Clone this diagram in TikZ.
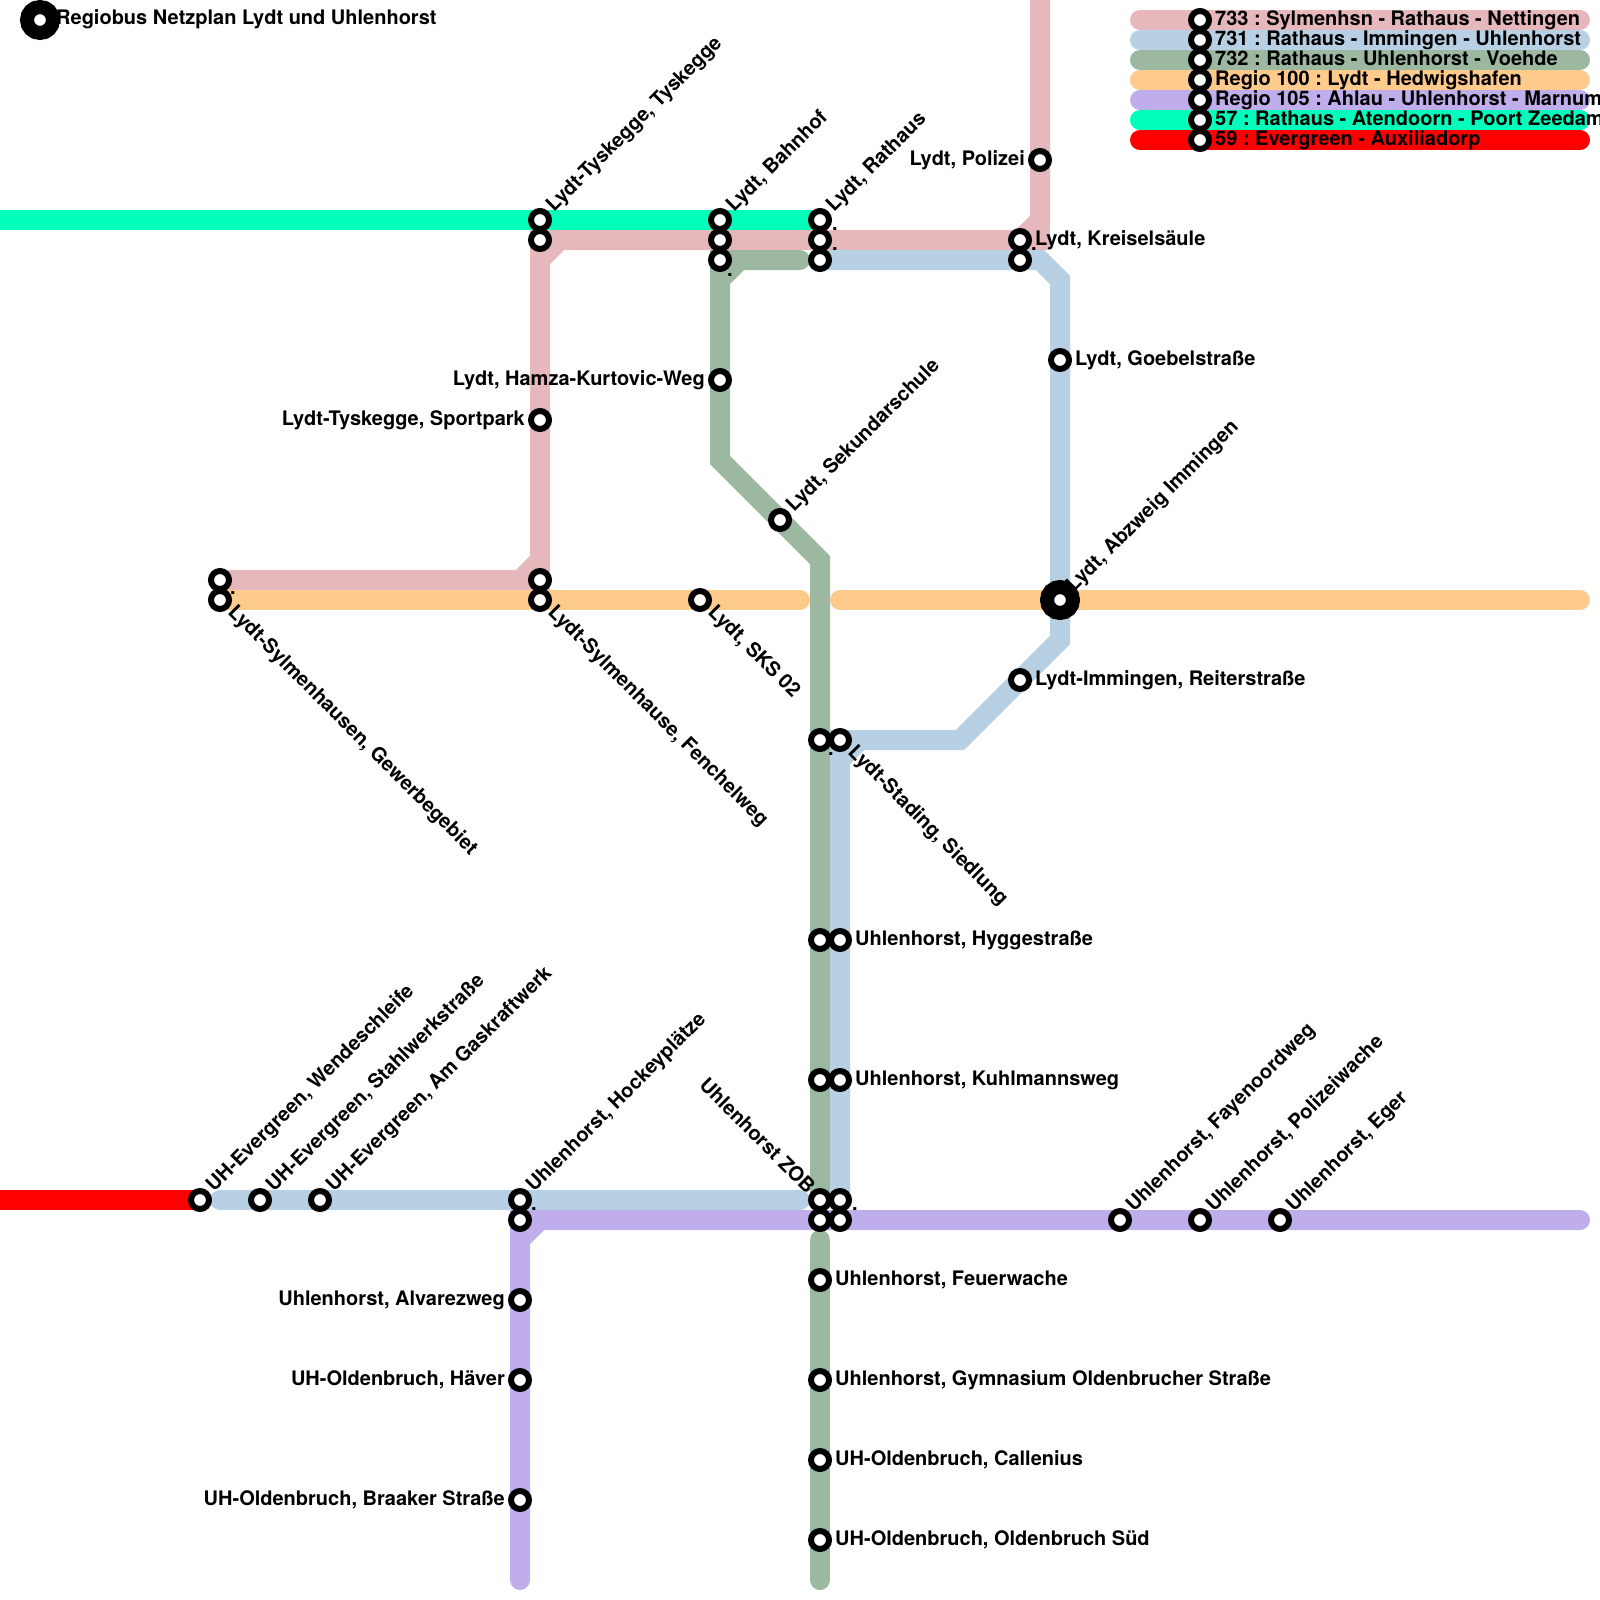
\documentclass[tikz,border=0pt]{standalone}
\usepackage{fontspec}
\setmainfont{TeX Gyre Heros}
\frenchspacing
\tikzset{
  x=1pt,y=-1pt,
  route/.style={line width=20pt,line join=miter,line cap=round},
  rbutt/.style={line width=20pt,line join=miter,line cap=butt},
  stn/.style={circle,draw=black,fill=white,line width=6pt,inner sep=0pt,minimum size=18pt},
  bigstn/.style={circle,draw=black,fill=white,line width=14pt,inner sep=0pt,minimum size=26pt},
  lab/.style={font=\bfseries\fontsize{20}{20}\selectfont,inner sep=0pt,text=black},
  rlab/.style={lab,anchor=base west},
  llab/.style={lab,anchor=base east},
  leg/.style={lab,anchor=base west},
}
\definecolor{cpink}{HTML}{E6B8BC}
\definecolor{cblue}{HTML}{B8D0E4}
\definecolor{cgreen}{HTML}{9DB8A0}
\definecolor{corange}{HTML}{FFCB8C}
\definecolor{cpurple}{HTML}{C0AEEC}
\definecolor{cmint}{HTML}{00FFBB}
\definecolor{cred}{HTML}{FF0000}
\begin{document}
\begin{tikzpicture}
\useasboundingbox (0,0) rectangle (1600,1600);
% legend bars
\foreach \y/\c in {20/cpink,40/cblue,60/cgreen,80/corange,100/cpurple,120/cmint,140/cred}{
  \coordinate (la\y) at (1140,\y); \coordinate (lb\y) at (1580,\y);
  \draw[route,draw=\c] (la\y) -- (lb\y);
}
% vertices
\coordinate (pTop) at (1040,0);
\coordinate (p1) at (1040,220);
\coordinate (p2) at (1020,240);
\coordinate (pc1) at (1040,240);
\coordinate (p3) at (560,240);
\coordinate (p4) at (540,260);
\coordinate (pc2) at (540,240);
\coordinate (p5) at (540,560);
\coordinate (p6) at (520,580);
\coordinate (pc3) at (540,580);
\coordinate (p7) at (220,580);
\coordinate (m0) at (0,220);
\coordinate (m1) at (820,220);
\coordinate (g0) at (800,260);
\coordinate (g1) at (740,260);
\coordinate (g2) at (720,280);
\coordinate (gc) at (720,260);
\coordinate (g3) at (720,460);
\coordinate (g4) at (820,560);
\coordinate (g5) at (820,1200);
\coordinate (g6) at (820,1240);
\coordinate (g7) at (820,1580);
\coordinate (b0) at (820,260);
\coordinate (b1) at (1040,260);
\coordinate (b2) at (1060,280);
\coordinate (b3) at (1060,640);
\coordinate (b4) at (960,740);
\coordinate (b5) at (860,740);
\coordinate (b5a) at (840,760);
\coordinate (bc) at (840,740);
\coordinate (b6) at (840,1200);
\coordinate (b7) at (800,1200);
\coordinate (b8) at (220,1200);
\coordinate (o0) at (220,600);
\coordinate (o1) at (800,600);
\coordinate (o2) at (840,600);
\coordinate (o3) at (1580,600);
\coordinate (v0) at (1580,1220);
\coordinate (v1) at (540,1220);
\coordinate (v2) at (520,1240);
\coordinate (vc) at (520,1220);
\coordinate (v3) at (520,1580);
\coordinate (r0) at (0,1200);
\coordinate (r1) at (200,1200);
% routes
\draw[rbutt,draw=cmint] (m0) -- (m1);
\draw[rbutt,draw=cpink] (pTop) -- (p1) -- (p2) -- (p3) -- (p4) -- (p5) -- (p6) -- (p7);
\draw[rbutt,draw=cpink] (p1) -- (pc1) -- (p2);
\draw[rbutt,draw=cpink] (p3) -- (pc2) -- (p4);
\draw[rbutt,draw=cpink] (p5) -- (pc3) -- (p6);
\draw[route,draw=cgreen] (g0) -- (g1) -- (g2) -- (g3) -- (g4) -- (g5);
\draw[rbutt,draw=cgreen] (g1) -- (gc) -- (g2);
\draw[route,draw=cgreen] (g6) -- (g7);
\draw[route,draw=cblue] (b0) -- (b1) -- (b2) -- (b3) -- (b4) -- (b5) -- (b5a) -- (b6);
\draw[rbutt,draw=cblue] (b5) -- (bc) -- (b5a);
\draw[route,draw=cblue] (b7) -- (b8);
\draw[route,draw=corange] (o0) -- (o1);
\draw[route,draw=corange] (o2) -- (o3);
\draw[route,draw=cpurple] (v0) -- (v1) -- (v2) -- (v3);
\draw[rbutt,draw=cpurple] (v1) -- (vc) -- (v2);
\draw[rbutt,draw=cred] (r0) -- (r1);
% legend stations and text
\foreach \y in {20,40,60,80,100,120,140}{ \node[stn] (ls\y) at (1200,\y) {}; }
\node[leg] (t1) at (1215,26) {733 : Sylmenhsn - Rathaus - Nettingen};
\node[leg] (t2) at (1215,46) {731 : Rathaus - Immingen - Uhlenhorst};
\node[leg] (t3) at (1215,66) {732 : Rathaus - Uhlenhorst - Voehde};
\node[leg] (t4) at (1215,86) {Regio 100 : Lydt - Hedwigshafen};
\node[leg] (t5) at (1215,106) {Regio 105 : Ahlau - Uhlenhorst - Marnum};
\node[leg] (t6) at (1215,126) {57 : Rathaus - Atendoorn - Poort Zeedam};
\node[leg] (t7) at (1215,146) {59 : Evergreen - Auxiliadorp};
% stations
\node[bigstn] (title) at (40,20) {};
\node[bigstn] (abz) at (1060,600) {};
\foreach \n/\x/\y in {a/540/220,b/540/240,c/720/220,d/720/240,e/720/260,f/820/220,g/820/240,h/820/260,
 i/1020/240,j/1020/260,k/1040/160,l/1060/360,m/720/380,n/540/420,o/780/520,
 p/220/580,q/220/600,r/540/580,s/540/600,t/700/600,u/1020/680,
 w/820/740,x/840/740,y/820/940,z/840/940,aa/820/1080,ab/840/1080,
 ac/820/1200,ad/840/1200,ae/820/1220,af/840/1220,ag/1120/1220,ah/1200/1220,ai/1280/1220,
 aj/820/1280,ak/820/1380,al/820/1460,am/820/1540,
 an/520/1200,ao/520/1220,ap/520/1300,aq/520/1380,ar/520/1500,
 as/200/1200,at/260/1200,au/320/1200}{
  \node[stn] (\n) at (\x,\y) {};
}
% dots
\foreach \n/\x/\y in {d1/727/276,d2/832/230,d3/832/250,d4/852/1210,d5/230/594,d6/828/755,d7/531/1210,d8/1031/250}{
  \node[rlab] (\n) at (\x,\y) {.};
}
% labels
\node[rlab] (ttl) at (56,25) {Regiobus Netzplan Lydt und Uhlenhorst};
\node[rlab,rotate=45] at (554,213) {Lydt-Tyskegge, Tyskegge};
\node[rlab,rotate=45] at (734,213) {Lydt, Bahnhof};
\node[rlab,rotate=45] at (834,213) {Lydt, Rathaus};
\node[llab] at (1025,165) {Lydt, Polizei};
\node[rlab] at (1035,245) {Lydt, Kreiselsäule};
\node[rlab] at (1075,365) {Lydt, Goebelstraße};
\node[llab] at (705,385) {Lydt, Hamza-Kurtovic-Weg};
\node[llab] at (525,425) {Lydt-Tyskegge, Sportpark};
\node[rlab,rotate=45] at (794,513) {Lydt, Sekundarschule};
\node[rlab,rotate=45] at (1074,593) {Lydt, Abzweig Immingen};
\node[rlab,rotate=-45] at (227,613) {Lydt-Sylmenhausen, Gewerbegebiet};
\node[rlab,rotate=-45] at (547,613) {Lydt-Sylmenhause, Fenchelweg};
\node[rlab,rotate=-45] at (707,613) {Lydt, SKS 02};
\node[rlab] at (1035,685) {Lydt-Immingen, Reiterstraße};
\node[rlab,rotate=-45] at (847,753) {Lydt-Stading, Siedlung};
\node[rlab] at (855,945) {Uhlenhorst, Hyggestraße};
\node[rlab] at (855,1085) {Uhlenhorst, Kuhlmannsweg};
\node[llab,rotate=-45] at (807,1195) {Uhlenhorst ZOB};
\node[rlab] at (835,1285) {Uhlenhorst, Feuerwache};
\node[rlab] at (835,1385) {Uhlenhorst, Gymnasium Oldenbrucher Straße};
\node[rlab] at (835,1465) {UH-Oldenbruch, Callenius};
\node[rlab] at (835,1545) {UH-Oldenbruch, Oldenbruch Süd};
\node[rlab,rotate=45] at (1134,1213) {Uhlenhorst, Fayenoordweg};
\node[rlab,rotate=45] at (1214,1213) {Uhlenhorst, Polizeiwache};
\node[rlab,rotate=45] at (1294,1213) {Uhlenhorst, Eger};
\node[rlab,rotate=45] at (534,1193) {Uhlenhorst, Hockeyplätze};
\node[llab] at (505,1305) {Uhlenhorst, Alvarezweg};
\node[llab] at (505,1385) {UH-Oldenbruch, Häver};
\node[llab] at (505,1505) {UH-Oldenbruch, Braaker Straße};
\node[rlab,rotate=45] at (214,1193) {UH-Evergreen, Wendeschleife};
\node[rlab,rotate=45] at (274,1193) {UH-Evergreen, Stahlwerkstraße};
\node[rlab,rotate=45] at (334,1193) {UH-Evergreen, Am Gaskraftwerk};
\end{tikzpicture}
\end{document}
